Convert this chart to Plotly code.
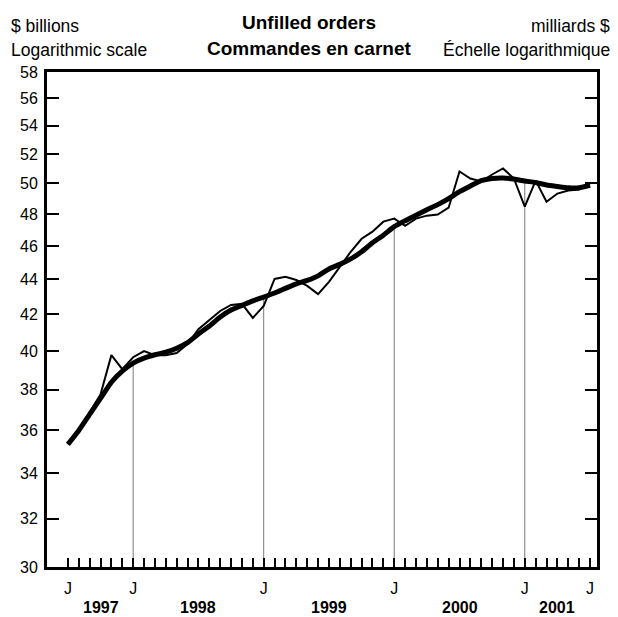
import math
import plotly.graph_objects as go

months = [
    "1997-07", "1997-08", "1997-09", "1997-10", "1997-11", "1997-12",
    "1998-01", "1998-02", "1998-03", "1998-04", "1998-05", "1998-06",
    "1998-07", "1998-08", "1998-09", "1998-10", "1998-11", "1998-12",
    "1999-01", "1999-02", "1999-03", "1999-04", "1999-05", "1999-06",
    "1999-07", "1999-08", "1999-09", "1999-10", "1999-11", "1999-12",
    "2000-01", "2000-02", "2000-03", "2000-04", "2000-05", "2000-06",
    "2000-07", "2000-08", "2000-09", "2000-10", "2000-11", "2000-12",
    "2001-01", "2001-02", "2001-03", "2001-04", "2001-05", "2001-06",
    "2001-07",
]

unfilled_orders = [
    35.32, 36.03, 36.86, 37.75, 39.78, 39.04, 39.67, 39.99, 39.78, 39.78,
    39.89, 40.37, 41.18, 41.68, 42.19, 42.53, 42.59, 41.80, 42.47, 44.03,
    44.15, 43.97, 43.62, 43.15, 43.86, 44.74, 45.65, 46.45, 46.89, 47.52,
    47.71, 47.26, 47.71, 47.90, 47.97, 48.41, 50.80, 50.33, 50.13, 50.60,
    51.01, 50.33, 48.48, 50.19, 48.80, 49.33, 49.53, 49.59, 49.99,
]

trend = [
    35.32, 35.98, 36.76, 37.55, 38.37, 38.94, 39.36, 39.62, 39.80, 39.94,
    40.15, 40.45, 40.91, 41.35, 41.85, 42.24, 42.50, 42.76, 42.98, 43.21,
    43.48, 43.74, 43.94, 44.21, 44.62, 44.89, 45.22, 45.65, 46.20, 46.67,
    47.20, 47.58, 47.93, 48.28, 48.61, 49.00, 49.46, 49.83, 50.19, 50.33,
    50.36, 50.29, 50.16, 50.06, 49.90, 49.80, 49.71, 49.71, 49.88,
]

y_ticks = [30, 32, 34, 36, 38, 40, 42, 44, 46, 48, 50, 52, 54, 56, 58]
year_labels = ["1997", "1998", "1999", "2000", "2001"]

FONT = "Liberation Sans, Arial, Helvetica, sans-serif"

n = len(months)
x = list(range(n))

# "J" labels at the first point, every January, and the last point
j_idx = [k for k, m in enumerate(months) if m.endswith("-01") or k in (0, n - 1)]
tick_text = ["J" if k in j_idx else "" for k in x]
year_pos = [(j_idx[k] + j_idx[k + 1]) / 2 for k in range(len(j_idx) - 1)]

# January separator lines from the bottom up to the trend
jan_idx = [k for k, m in enumerate(months) if m.endswith("-01")]
vx, vy = [], []
for k in jan_idx:
    vx += [k, k, None]
    vy += [y_ticks[0], trend[k], None]

fig = go.Figure()
fig.add_trace(go.Scatter(x=vx, y=vy, mode="lines",
                         line=dict(color="#7a7a7a", width=1),
                         hoverinfo="skip", showlegend=False))
fig.add_trace(go.Scatter(x=x, y=trend, mode="lines",
                         line=dict(color="black", width=5, shape="spline", smoothing=0.6),
                         showlegend=False))
fig.add_trace(go.Scatter(x=x, y=unfilled_orders, mode="lines",
                         line=dict(color="black", width=2),
                         showlegend=False))

fig.update_xaxes(
    range=[-1.92, n - 1 + 0.64],
    tickvals=x, ticktext=tick_text,
    ticks="inside", ticklen=9, tickwidth=2, tickcolor="black",
    showline=True, linecolor="black", linewidth=3, mirror=True,
    showgrid=False, zeroline=False,
    tickfont=dict(family=FONT, size=16, color="black"),
    ticklabelstandoff=5,
)
fig.update_yaxes(
    type="log",
    range=[math.log10(y_ticks[0]), math.log10(y_ticks[-1])],
    tickvals=y_ticks, ticktext=[str(v) for v in y_ticks],
    ticks="inside", ticklen=12, tickwidth=2, tickcolor="black",
    showline=True, linecolor="black", linewidth=3, mirror="ticks",
    showgrid=False, zeroline=False,
    tickfont=dict(family=FONT, size=16, color="black"),
    ticklabelstandoff=3,
)

annotations = []
for pos, lab in zip(year_pos, year_labels):
    annotations.append(dict(x=pos, y=0, xref="x", yref="paper", text="<b>%s</b>" % lab,
                            showarrow=False, xanchor="center", yanchor="middle", yshift=-40,
                            font=dict(family=FONT, size=16, color="black")))

hdr = dict(family=FONT, size=17.5, color="black")
ttl = dict(family=FONT, size=19, color="black")
annotations += [
    dict(x=0, y=1, xref="paper", yref="paper", text="$ billions", showarrow=False,
         xanchor="left", yanchor="middle", xshift=-38, yshift=46, font=hdr),
    dict(x=0, y=1, xref="paper", yref="paper", text="Logarithmic scale", showarrow=False,
         xanchor="left", yanchor="middle", xshift=-38, yshift=22, font=hdr),
    dict(x=1, y=1, xref="paper", yref="paper", text="milliards $", showarrow=False,
         xanchor="right", yanchor="middle", xshift=15, yshift=46, font=hdr),
    dict(x=1, y=1, xref="paper", yref="paper", text="Échelle logarithmique", showarrow=False,
         xanchor="right", yanchor="middle", xshift=15, yshift=22, font=hdr),
    dict(x=0.4756, y=1, xref="paper", yref="paper", text="<b>Unfilled orders</b>", showarrow=False,
         xanchor="center", yanchor="middle", yshift=50, font=ttl),
    dict(x=0.4756, y=1, xref="paper", yref="paper", text="<b>Commandes en carnet</b>", showarrow=False,
         xanchor="center", yanchor="middle", yshift=24, font=ttl),
]

# the page body adds an 8 px offset, so the figure is drawn 8 px smaller
fig.update_layout(
    width=610, height=609,
    margin=dict(l=36, r=21, t=64, b=50),
    paper_bgcolor="white", plot_bgcolor="white",
    annotations=annotations,
    font=dict(family=FONT, color="black"),
)

fig.write_html("out.html")
